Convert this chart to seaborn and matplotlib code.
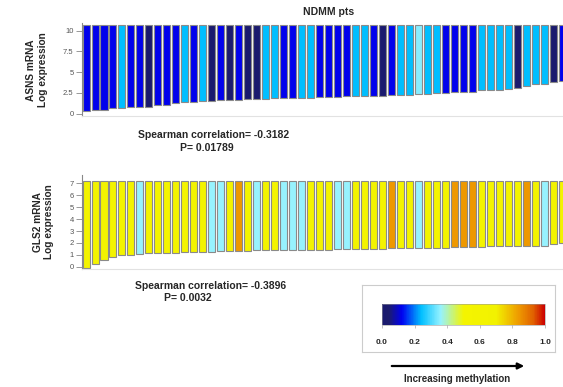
import numpy as np
import pandas as pd
import matplotlib
matplotlib.use("Agg")
import matplotlib.pyplot as plt
import seaborn as sns
from matplotlib.colors import LinearSegmentedColormap, Normalize
from matplotlib.cm import ScalarMappable

# ASNS log expression per patient (bar bottom) and methylation level (bar colour)
asns_expr = [0.36, 0.44, 0.48, 0.64, 0.68, 0.76, 0.80, 0.84, 1.00, 1.04,
             1.29, 1.37, 1.41, 1.49, 1.53, 1.61, 1.65, 1.69, 1.73, 1.77,
             1.81, 1.85, 1.89, 1.89, 1.93, 1.93, 1.97, 1.97, 2.05, 2.09,
             2.13, 2.13, 2.17, 2.17, 2.21, 2.25, 2.25, 2.33, 2.37, 2.45,
             2.53, 2.57, 2.61, 2.65, 2.81, 2.85, 2.89, 3.01, 3.05, 3.29,
             3.57, 3.61, 3.82, 3.98]
asns_meth = [0.12, 0.12, 0.12, 0.12, 0.24, 0.12, 0.12, 0.02, 0.12, 0.12,
             0.12, 0.24, 0.12, 0.24, 0.02, 0.12, 0.02, 0.12, 0.02, 0.02,
             0.24, 0.24, 0.12, 0.12, 0.24, 0.24, 0.12, 0.12, 0.12, 0.12,
             0.24, 0.24, 0.12, 0.02, 0.12, 0.24, 0.24, 0.35, 0.24, 0.24,
             0.12, 0.12, 0.12, 0.12, 0.24, 0.24, 0.24, 0.24, 0.02, 0.24,
             0.24, 0.24, 0.02, 0.12]

# GLS2 log expression and methylation
gls2_expr = [-0.08, 0.22, 0.59, 0.78, 0.98, 1.00, 1.06, 1.12, 1.15, 1.18,
             1.18, 1.20, 1.20, 1.23, 1.26, 1.29, 1.32, 1.34, 1.34, 1.37,
             1.37, 1.37, 1.40, 1.40, 1.43, 1.43, 1.43, 1.43, 1.46, 1.46,
             1.48, 1.48, 1.51, 1.51, 1.54, 1.54, 1.54, 1.57, 1.57, 1.60,
             1.60, 1.62, 1.62, 1.65, 1.68, 1.71, 1.71, 1.74, 1.74, 1.76,
             1.76, 1.76, 1.88, 1.99]
gls2_meth = [0.62, 0.62, 0.62, 0.62, 0.62, 0.62, 0.36, 0.62, 0.62, 0.62,
             0.62, 0.62, 0.62, 0.62, 0.36, 0.36, 0.62, 0.84, 0.62, 0.36,
             0.62, 0.62, 0.36, 0.36, 0.36, 0.62, 0.62, 0.62, 0.36, 0.36,
             0.62, 0.62, 0.62, 0.62, 0.84, 0.62, 0.62, 0.36, 0.62, 0.62,
             0.62, 0.84, 0.84, 0.84, 0.62, 0.62, 0.62, 0.62, 0.62, 0.84,
             0.62, 0.36, 0.62, 0.62]

asns_top = 10.7
gls2_top = 7.22
cbar_ticks = [0.0, 0.2, 0.4, 0.6, 0.8, 1.0]

cmap = LinearSegmentedColormap.from_list("meth", [
    (0.0, "#191970"), (0.04, "#1c1c6c"), (0.12, "#0000f0"), (0.24, "#00bfff"),
    (0.36, "#96f2ff"), (0.5, "#f4f400"), (0.7, "#f2f200"), (0.84, "#ee9a00"),
    (0.93, "#e06000"), (1.0, "#cc0000")])

sns.set_style("white")
plt.rcParams["font.family"] = ["Liberation Sans", "DejaVu Sans"]

fig = plt.figure(figsize=(5.63, 3.87), dpi=100)


def hanging_bars(ax, expr, meth, top, ylim, yticks, yticklabels, ylabel):
    df = pd.DataFrame({"pt": np.arange(len(expr)),
                       "h": [top - v for v in expr]})
    sns.barplot(data=df, x="pt", y="h", bottom=expr, width=0.78,
                color="white", edgecolor="#8a8a8a", linewidth=0.8, ax=ax)
    for patch, m in zip(ax.patches, meth):
        patch.set_facecolor(cmap(m))
    ax.set_xlim(-0.45, len(expr) - 0.95)
    ax.set_ylim(*ylim)
    ax.set_xticks([])
    ax.set_xlabel("")
    ax.set_yticks(yticks)
    ax.set_yticklabels(yticklabels, fontsize=5.5, color="#555555")
    ax.tick_params(axis="y", length=4, width=0.6, color="#888888", pad=2, left=True)
    ax.set_ylabel(ylabel, fontsize=7.3, fontweight="bold", labelpad=11)
    for s in ["top", "right"]:
        ax.spines[s].set_visible(False)
    ax.spines["left"].set_color("#888888")
    ax.spines["left"].set_linewidth(0.8)
    ax.spines["bottom"].set_color("#e2e2e2")
    ax.spines["bottom"].set_linewidth(0.8)


ax1 = fig.add_axes([0.1456, 0.6997, 0.8544, 0.2403])
hanging_bars(ax1, asns_expr, asns_meth, asns_top, (-0.3, 10.9),
             [0, 2.5, 5, 7.5, 10], ["0", "2.5", "5", "7.5", "10"],
             "ASNS mRNA\nLog expression")

ax2 = fig.add_axes([0.1456, 0.3062, 0.8544, 0.2413])
hanging_bars(ax2, gls2_expr, gls2_meth, gls2_top, (-0.15, 7.7),
             list(range(8)), [str(i) for i in range(8)],
             "GLS2 mRNA\nLog expression")

fig.text(329 / 563, 1 - 12 / 387, "NDMM pts", ha="center", va="center",
         fontsize=7.5, fontweight="bold")

fig.text(214 / 563, 1 - 135 / 387, "Spearman correlation= -0.3182",
         ha="center", va="center", fontsize=7.5, fontweight="bold")
fig.text(207 / 563, 1 - 148 / 387, "P= 0.01789",
         ha="center", va="center", fontsize=7.5, fontweight="bold")
fig.text(211 / 563, 1 - 286 / 387, "Spearman correlation= -0.3896",
         ha="center", va="center", fontsize=7.5, fontweight="bold")
fig.text(188 / 563, 1 - 298 / 387, "P= 0.0032",
         ha="center", va="center", fontsize=7.5, fontweight="bold")

# legend box with colorbar
box = fig.add_axes([362 / 563, 1 - 352 / 387, 193 / 563, 67 / 387])
box.set_xticks([])
box.set_yticks([])
for s in box.spines.values():
    s.set_color("#cccccc")
    s.set_linewidth(0.8)

cax = fig.add_axes([382 / 563, 1 - 325 / 387, 163 / 563, 21 / 387])
sm = ScalarMappable(norm=Normalize(0, 1), cmap=cmap)
cb = fig.colorbar(sm, cax=cax, orientation="horizontal", ticks=cbar_ticks)
cb.outline.set_linewidth(0.4)
cb.outline.set_edgecolor("#999999")
cax.tick_params(length=2, width=0.5, color="#aaaaaa", pad=8)
cax.set_xticklabels([f"{t:.1f}" for t in cbar_ticks], fontsize=6,
                    fontweight="bold")

fig.add_artist(matplotlib.patches.FancyArrowPatch(
    (389 / 563, 1 - 366 / 387), (527 / 563, 1 - 366 / 387),
    transform=fig.transFigure, arrowstyle="-|>", mutation_scale=9,
    linewidth=1.6, color="black"))
fig.text(457 / 563, 1 - 379 / 387, "Increasing methylation", ha="center",
         va="center", fontsize=7, fontweight="bold")

fig.savefig("out.png", dpi=100)
